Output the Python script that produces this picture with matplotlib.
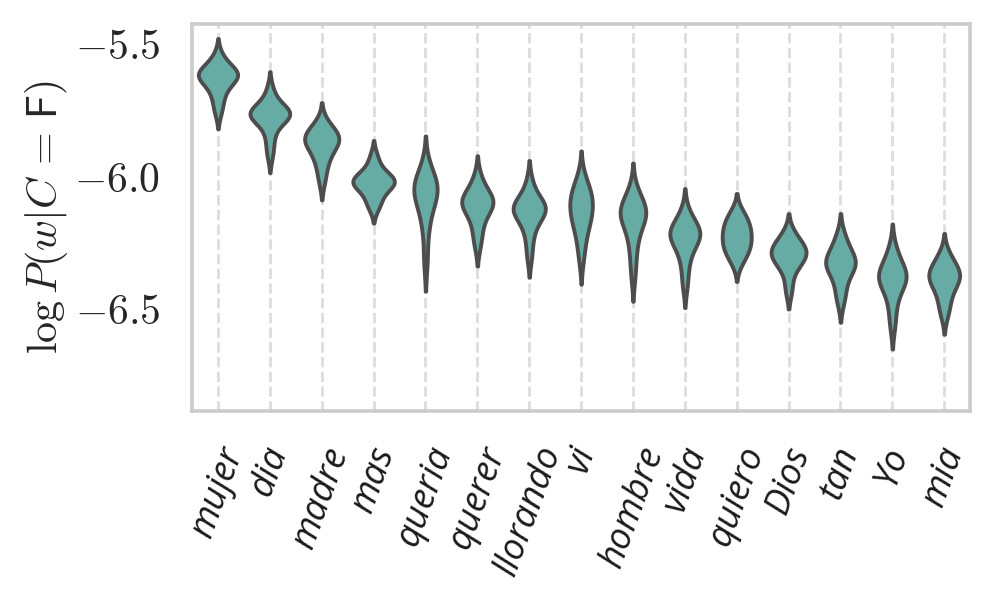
import matplotlib
matplotlib.use("Agg")
import matplotlib.pyplot as plt
import seaborn as sns
import pandas as pd
from matplotlib.ticker import FuncFormatter, MultipleLocator

words = ["mujer", "dia", "madre", "mas", "queria", "querer", "llorando", "vi",
         "hombre", "vida", "quiero", "Dios", "tan", "Yo", "mia"]

s_mujer = [-5.55, -5.58, -5.60, -5.608, -5.612, -5.618, -5.624, -5.630, -5.637, -5.646, -5.665, -5.69, -5.72, -5.76]
s_dia = [-5.68, -5.72, -5.748, -5.758, -5.763, -5.766, -5.769, -5.772, -5.776, -5.782, -5.795, -5.83, -5.87, -5.92]
s_madre = [-5.80, -5.825, -5.84, -5.85, -5.857, -5.864, -5.872, -5.882, -5.895, -5.915, -5.94, -5.97, -6.02]
s_mas = [-5.93, -5.97, -5.995, -6.008, -6.016, -6.021, -6.026, -6.031, -6.038, -6.05, -6.07, -6.10, -6.12]
s_queria = [-5.97, -6.005, -6.03, -6.042, -6.05, -6.056, -6.065, -6.085, -6.115, -6.155, -6.21, -6.32]
s_querer = [-6.01, -6.05, -6.078, -6.09, -6.097, -6.102, -6.108, -6.118, -6.138, -6.17, -6.21, -6.26]
s_llorando = [-6.03, -6.08, -6.108, -6.118, -6.123, -6.127, -6.131, -6.137, -6.155, -6.19, -6.23, -6.30]
s_vi = [-6.01, -6.045, -6.07, -6.08, -6.09, -6.11, -6.13, -6.15, -6.16, -6.18, -6.21, -6.25, -6.31]
s_hombre = [-6.06, -6.095, -6.12, -6.132, -6.139, -6.145, -6.152, -6.165, -6.195, -6.24, -6.29, -6.37]
s_vida = [-6.14, -6.178, -6.198, -6.21, -6.217, -6.223, -6.23, -6.242, -6.262, -6.295, -6.34, -6.41]
s_quiero = [-6.14, -6.16, -6.18, -6.195, -6.21, -6.225, -6.24, -6.255, -6.27, -6.285, -6.30, -6.33]
s_Dios = [-6.22, -6.25, -6.27, -6.282, -6.292, -6.30, -6.313, -6.332, -6.36, -6.43]
s_tan = [-6.23, -6.265, -6.297, -6.315, -6.326, -6.333, -6.341, -6.353, -6.38, -6.43, -6.47]
s_Yo = [-6.28, -6.32, -6.355, -6.37, -6.379, -6.386, -6.393, -6.407, -6.44, -6.49, -6.56]
s_mia = [-6.30, -6.33, -6.352, -6.365, -6.376, -6.386, -6.397, -6.413, -6.44, -6.48, -6.52]

samples = [s_mujer, s_dia, s_madre, s_mas, s_queria, s_querer, s_llorando, s_vi,
           s_hombre, s_vida, s_quiero, s_Dios, s_tan, s_Yo, s_mia]

rows = []
for w, s in zip(words, samples):
    for v in s:
        rows.append((w, v))
df = pd.DataFrame(rows, columns=["word", "logp"])

sns.set_style("whitegrid")
plt.rcParams["mathtext.fontset"] = "cm"

fig = plt.figure(figsize=(4.975, 3.005), dpi=200)
ax = fig.add_axes([0.193, 0.316, 0.782, 0.644])

sns.violinplot(data=df, x="word", y="logp", order=words, ax=ax, inner=None,
               color="#66aca4", saturation=1, linecolor="#4d4d4d", linewidth=1.4,
               width=0.8, density_norm="area")

ax.set_xlim(-0.5, len(words) - 0.5)
ax.set_ylim(-6.89, -5.43)
ax.yaxis.set_major_locator(MultipleLocator(0.5))
ax.yaxis.set_major_formatter(FuncFormatter(lambda v, p: f"${v:.1f}$"))
ax.grid(False)
ax.xaxis.grid(True, linestyle="--", color="#dddddd", linewidth=1.0)
ax.set_axisbelow(True)
for sp in ax.spines.values():
    sp.set_color("#cccccc")
    sp.set_linewidth(1.3)

ax.set_xlabel("")
ax.set_ylabel(r"$\log P(w|C\,=\,\mathsf{F})$", fontsize=15.2, labelpad=1.5)
ax.tick_params(axis="y", labelsize=15, length=0, pad=11.5)
ax.tick_params(axis="x", length=0, pad=11)
ax.set_xticks(range(len(words)))
ax.set_xticklabels(words, rotation=70, fontsize=13, family="Open Sans", style="italic",
                   color="#1a1a1a")

fig.savefig("out.png", dpi=200)
